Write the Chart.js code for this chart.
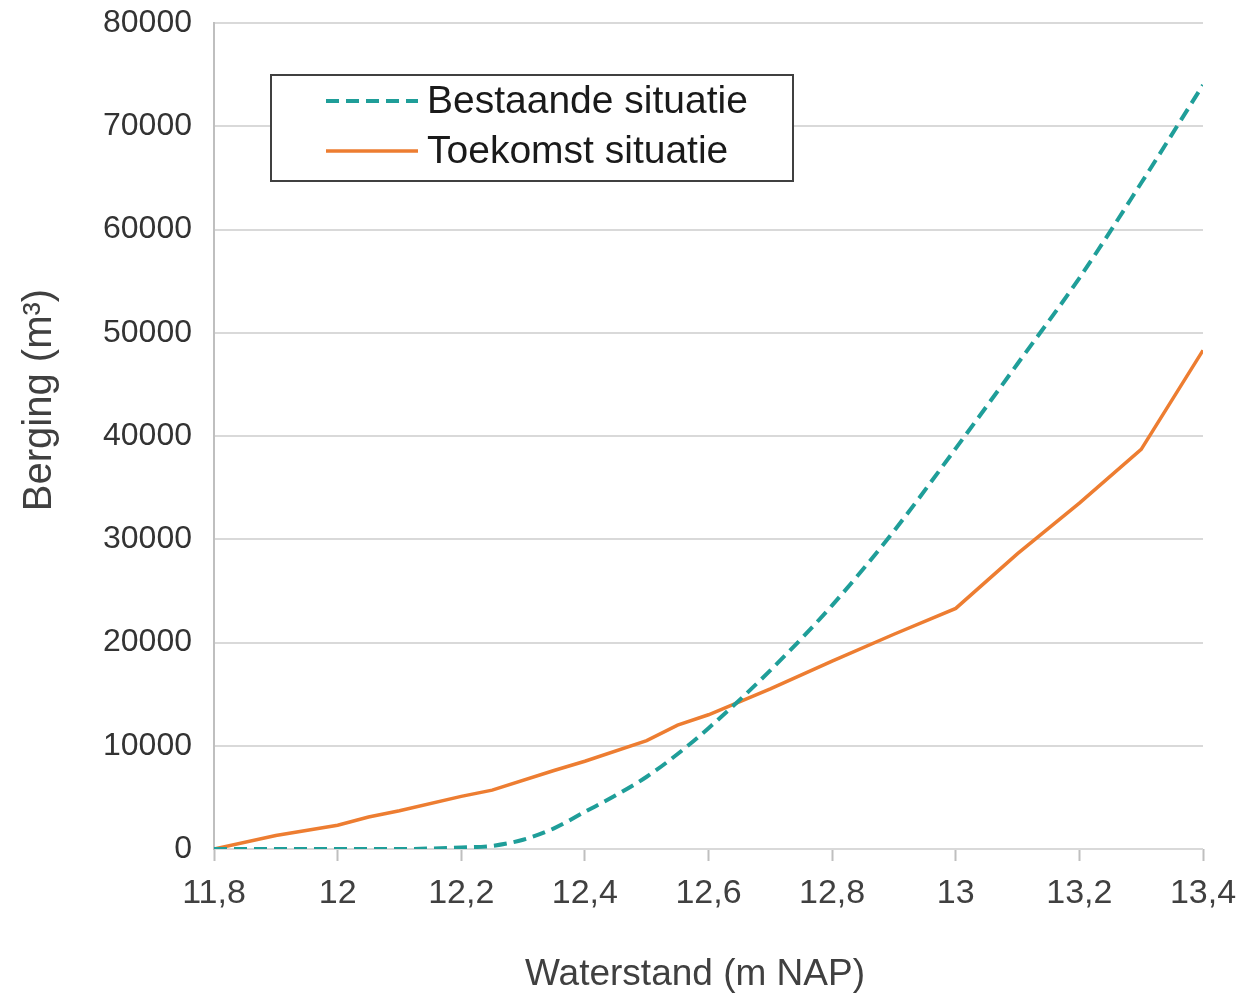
<!DOCTYPE html>
<html>
<head>
<meta charset="utf-8">
<script src="https://cdn.jsdelivr.net/npm/chart.js@4/dist/chart.umd.min.js"></script>
<style>
  html, body { margin: 0; padding: 0; background: #ffffff; }
  #wrap { width: 1253px; height: 1000px; position: relative; }
</style>
</head>
<body>
<div id="wrap"><canvas id="c" width="1253" height="1000"></canvas></div>
<script>
// ---- data ----
const seriesNames = ["Bestaande situatie", "Toekomst situatie"];
const xTitle = "Waterstand (m NAP)";
const yTitle = "Berging (m³)";

const bestaandeX = [11.8, 11.9, 12.0, 12.1, 12.2, 12.25, 12.3, 12.35, 12.4, 12.45, 12.5, 12.55, 12.6, 12.7, 12.8, 12.9, 13.0, 13.1, 13.2, 13.3, 13.4];
const bestaandeY = [0, 0, 0, 0, 150, 300, 900, 2000, 3600, 5200, 7000, 9200, 11700, 17300, 23600, 30800, 38800, 47000, 55300, 64500, 74000];

const toekomstX = [11.8, 11.9, 12.0, 12.05, 12.1, 12.2, 12.25, 12.35, 12.4, 12.5, 12.55, 12.6, 12.7, 12.8, 12.9, 13.0, 13.1, 13.2, 13.3, 13.4];
const toekomstY = [0, 1300, 2300, 3100, 3700, 5100, 5700, 7600, 8500, 10500, 12000, 13000, 15500, 18200, 20800, 23300, 28600, 33500, 38700, 48300];

const xMin = 11.8, xMax = 13.4, xStep = 0.2;
const yMin = 0, yMax = 80000, yStep = 10000;

const tealColor = "#1f9e99";
const orangeColor = "#ed7d31";
const textColor = "#404040";

function pts(xs, ys) { return xs.map((x, i) => ({ x: x, y: ys[i] })); }

// Custom legend box + axis titles
const decorPlugin = {
  id: "decor",
  afterDraw(chart) {
    const ctx = chart.ctx;
    ctx.save();
    // legend box
    const bx = 271, by = 75, bw = 522, bh = 106;
    ctx.fillStyle = "#ffffff";
    ctx.fillRect(bx, by, bw, bh);
    ctx.strokeStyle = "#404040";
    ctx.lineWidth = 2;
    ctx.strokeRect(bx, by, bw, bh);
    const ds = chart.data.datasets;
    const rows = [101, 151];
    ds.forEach((d, i) => {
      const y = rows[i];
      ctx.beginPath();
      ctx.strokeStyle = d.borderColor;
      ctx.lineWidth = d.borderWidth;
      ctx.setLineDash(d.borderDash || []);
      ctx.moveTo(326, y);
      ctx.lineTo(418, y);
      ctx.stroke();
      ctx.setLineDash([]);
      ctx.fillStyle = "#1a1a1a";
      ctx.font = "39px 'Liberation Sans', Arial, sans-serif";
      ctx.textBaseline = "middle";
      ctx.textAlign = "left";
      ctx.fillText(d.label, 427, y + 1);
    });
    // y title
    ctx.fillStyle = textColor;
    ctx.translate(40, 400);
    ctx.rotate(-Math.PI / 2);
    ctx.font = "40px 'Liberation Sans', Arial, sans-serif";
    ctx.textAlign = "center";
    ctx.textBaseline = "middle";
    ctx.fillText(yTitle, 0, 0);
    ctx.restore();
    // x title
    ctx.save();
    ctx.fillStyle = textColor;
    ctx.font = "37px 'Liberation Sans', Arial, sans-serif";
    ctx.textAlign = "center";
    ctx.textBaseline = "middle";
    ctx.fillText(xTitle, 695, 975);
    ctx.restore();
  }
};

new Chart(document.getElementById("c"), {
  type: "line",
  data: {
    datasets: [
      {
        label: seriesNames[0],
        data: pts(bestaandeX, bestaandeY),
        borderColor: tealColor,
        backgroundColor: tealColor,
        borderWidth: 4,
        borderDash: [13, 7],
        pointRadius: 0,
        tension: 0.3,
        cubicInterpolationMode: "monotone",
        fill: false
      },
      {
        label: seriesNames[1],
        data: pts(toekomstX, toekomstY),
        borderColor: orangeColor,
        backgroundColor: orangeColor,
        borderWidth: 3.5,
        pointRadius: 0,
        tension: 0,
        fill: false
      }
    ]
  },
  options: {
    responsive: false,
    animation: false,
    events: [],
    layout: { padding: { top: 23, right: 50, left: 0, bottom: 0 } },
    plugins: {
      legend: { display: false },
      tooltip: { enabled: false },
      title: { display: false }
    },
    scales: {
      x: {
        type: "linear",
        min: xMin,
        max: xMax,
        afterBuildTicks(scale) {
          const t = [];
          for (let i = 0; i <= Math.round((xMax - xMin) / xStep); i++) {
            t.push({ value: +(xMin + i * xStep).toFixed(1) });
          }
          scale.ticks = t;
        },
        afterFit(scale) {
          scale.height = 151;
          scale.paddingLeft = 0;
          scale.paddingRight = 0;
        },
        grid: {
          drawOnChartArea: false,
          drawTicks: true,
          tickLength: 12,
          tickColor: "#bfbfbf",
          tickWidth: 2
        },
        border: { display: false },
        ticks: {
          color: textColor,
          font: { family: "'Liberation Sans', Arial, sans-serif", size: 34 },
          padding: 12,
          maxRotation: 0,
          autoSkip: false,
          callback: (v) => String(+(+v).toFixed(1)).replace(".", ",")
        }
      },
      y: {
        type: "linear",
        min: yMin,
        max: yMax,
        afterFit(scale) {
          scale.width = 214;
          scale.paddingTop = 0;
          scale.paddingBottom = 0;
        },
        grid: {
          color: "#d9d9d9",
          lineWidth: 2,
          drawTicks: false
        },
        border: { display: true, color: "#bfbfbf", width: 2 },
        ticks: {
          stepSize: yStep,
          color: "#333333",
          font: { family: "'Liberation Sans', Arial, sans-serif", size: 32 },
          padding: 22,
          callback: (v) => String(v)
        }
      }
    }
  },
  plugins: [decorPlugin]
});
</script>
</body>
</html>
